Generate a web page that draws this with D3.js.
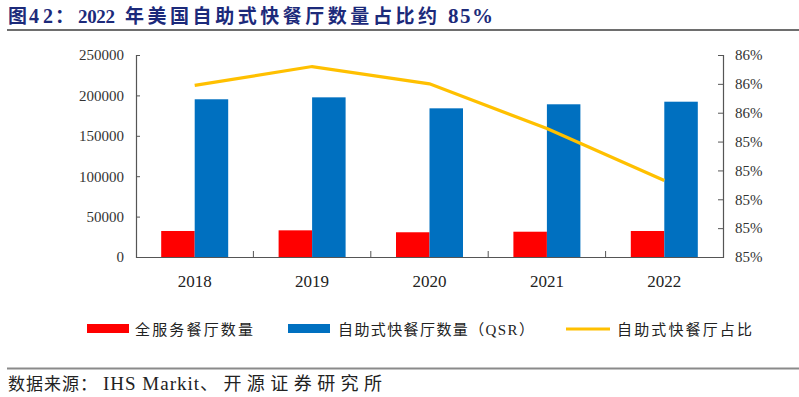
<!DOCTYPE html>
<html>
<head>
<meta charset="utf-8">
<script src="https://cdn.jsdelivr.net/npm/d3@7"></script>
<style>
  body { margin: 0; background: #fff; }
  svg { display: block; }
</style>
</head>
<body>
<svg id="chart" width="799" height="397"></svg>
<script>
// data
var years = ["2018", "2019", "2020", "2021", "2022"];
var fullService = [32200, 33000, 30600, 31300, 32200];
var quickService = [195200, 197600, 184000, 189000, 192200];
var qsrShare = [0.8579, 0.8592, 0.8580, 0.8549, 0.8513];
var leftTicks = [0, 50000, 100000, 150000, 200000, 250000];
var rightTicks = [0.846, 0.848, 0.850, 0.852, 0.854, 0.856, 0.858, 0.860];

var svg = d3.select("#chart");
var serif = "'Liberation Serif', 'Times New Roman', serif";
// latin glyphs come from the serif, CJK falls through to Noto CJK
var mixed = "'Liberation Serif', 'Noto Sans CJK SC', serif";

var plot = { left: 136, right: 723, top: 55, bottom: 257 };

// runs of text placed piece by piece, so CJK and latin spacing stay apart
function textRuns(sel, runs) {
  runs.forEach(function(r) {
    var t = sel.append("tspan").attr("x", r.x).text(r.t);
    if (r.w) t.attr("textLength", r.w).attr("lengthAdjust", "spacing");
    if (r.size) t.attr("font-size", r.size);
  });
}

// title + rules
var title = svg.append("text")
  .attr("y", 23)
  .attr("font-family", mixed)
  .attr("font-weight", "bold")
  .attr("font-size", 19)
  .attr("fill", "#1c2a7a");
textRuns(title, [
  { t: "图", x: 8 },
  { t: "42", x: 29, w: 24, size: 20 },
  { t: "：", x: 55 },
  { t: "2022", x: 78, w: 37, size: 19 },
  { t: "年美国自助式快餐厅数量占比约", x: 125, w: 312 },
  { t: "85%", x: 448, w: 45, size: 21 }
]);

svg.append("line").attr("x1", 7).attr("x2", 799).attr("y1", 30).attr("y2", 30)
  .attr("stroke", "#6e6e6e").attr("stroke-width", 2);
svg.append("line").attr("x1", 7).attr("x2", 799).attr("y1", 368.5).attr("y2", 368.5)
  .attr("stroke", "#8a8a8a").attr("stroke-width", 2);

var source = svg.append("text")
  .attr("y", 390)
  .attr("font-family", mixed)
  .attr("font-size", 17)
  .attr("fill", "#222");
textRuns(source, [
  { t: "数据来源：", x: 8, w: 89 },
  { t: "IHS Markit", x: 103, w: 96, size: 19 },
  { t: "、开源证券研究所", x: 200, w: 182, size: 18 }
]);

// scales
var x = d3.scaleBand().domain(years).range([plot.left, plot.right]);
var y = d3.scaleLinear().domain([0, 250000]).range([plot.bottom, plot.top]);
var y2 = d3.scaleLinear().domain([0.846, 0.860]).range([plot.bottom, plot.top]);
var barW = 33.5;

var g = svg.append("g");

// bars
g.selectAll("rect.full").data(years).enter().append("rect")
  .attr("class", "full")
  .attr("x", function(d) { return x(d) + x.bandwidth() / 2 - barW; })
  .attr("y", function(d, i) { return y(fullService[i]); })
  .attr("width", barW)
  .attr("height", function(d, i) { return plot.bottom - y(fullService[i]); })
  .attr("fill", "#ff0000");

g.selectAll("rect.qsr").data(years).enter().append("rect")
  .attr("class", "qsr")
  .attr("x", function(d) { return x(d) + x.bandwidth() / 2; })
  .attr("y", function(d, i) { return y(quickService[i]); })
  .attr("width", barW)
  .attr("height", function(d, i) { return plot.bottom - y(quickService[i]); })
  .attr("fill", "#0070c0");

// axes
var leftAxis = svg.append("g")
  .attr("transform", "translate(" + plot.left + ",0)")
  .call(d3.axisLeft(y).tickValues(leftTicks).tickFormat(d3.format("d"))
    .tickSizeInner(-4).tickSizeOuter(-4).tickPadding(12));

var rightAxis = svg.append("g")
  .attr("transform", "translate(" + plot.right + ",0)")
  .call(d3.axisRight(y2).tickValues(rightTicks).tickFormat(d3.format(".0%"))
    .tickSizeInner(-5).tickSizeOuter(-5).tickPadding(12));

var bottomAxis = svg.append("g")
  .attr("transform", "translate(0," + plot.bottom + ")")
  .call(d3.axisBottom(x).tickSize(0).tickPadding(18));

// category separator ticks
svg.selectAll("line.sep").data(years.slice(1)).enter().append("line")
  .attr("class", "sep")
  .attr("x1", function(d) { return x(d); })
  .attr("x2", function(d) { return x(d); })
  .attr("y1", plot.bottom).attr("y2", plot.bottom - 6)
  .attr("stroke", "#555");

[leftAxis, rightAxis, bottomAxis].forEach(function(a) {
  a.selectAll("path.domain").attr("stroke", "#555").attr("stroke-width", 1.2);
  a.selectAll(".tick line").attr("stroke", "#555");
  a.selectAll("text").attr("font-family", serif).attr("fill", "#333");
});
leftAxis.selectAll("text").attr("font-size", 15);
rightAxis.selectAll("text").attr("font-size", 15);
bottomAxis.selectAll("text").attr("font-size", 17).attr("fill", "#222");

// share line
var line = d3.line()
  .x(function(d, i) { return x(years[i]) + x.bandwidth() / 2; })
  .y(function(d) { return y2(d); });

svg.append("path")
  .datum(qsrShare)
  .attr("d", line)
  .attr("fill", "none")
  .attr("stroke", "#ffc000")
  .attr("stroke-width", 3.2);

// legend
var legend = svg.append("g").attr("font-family", mixed).attr("font-size", 15).attr("fill", "#222");
var items = [
  { label: "全服务餐厅数量", color: "#ff0000", type: "rect", x: 87, tx: 135, w: 118 },
  { label: "自助式快餐厅数量（QSR）", color: "#0070c0", type: "rect", x: 288, tx: 338, w: 196 },
  { label: "自助式快餐厅占比", color: "#ffc000", type: "line", x: 566, tx: 617, w: 135 }
];
items.forEach(function(it) {
  if (it.type == "rect") {
    legend.append("rect").attr("x", it.x).attr("y", 324).attr("width", 42).attr("height", 9).attr("fill", it.color);
  } else {
    legend.append("line").attr("x1", it.x).attr("x2", it.x + 44).attr("y1", 329).attr("y2", 329)
      .attr("stroke", it.color).attr("stroke-width", 3);
  }
  legend.append("text").attr("x", it.tx).attr("y", 335)
    .attr("textLength", it.w).attr("lengthAdjust", "spacing")
    .text(it.label);
});
</script>
</body>
</html>
